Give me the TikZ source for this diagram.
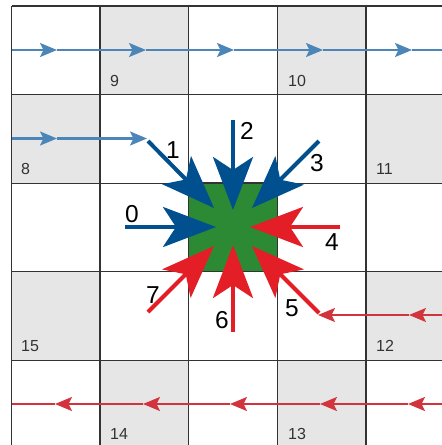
\documentclass[tikz,border=0pt]{standalone}
\usepackage{fontspec}
\setmainfont{Liberation Sans}
\usetikzlibrary{arrows.meta}
\definecolor{gridc}{HTML}{333333}
\definecolor{cellgray}{HTML}{E6E6E6}
\definecolor{thinblue}{HTML}{4C86B8}
\definecolor{thinred}{HTML}{D2343E}
\definecolor{bigblue}{HTML}{00508F}
\definecolor{bigred}{HTML}{E31E26}
\definecolor{sqgreen}{HTML}{2C8A35}
\tikzset{
  thinb/.style={draw=thinblue, line width=2.2pt, -{Stealth[length=17pt,width=14pt,inset=3.5pt]}},
  thinr/.style={draw=thinred, line width=2.2pt, -{Stealth[length=17pt,width=14pt,inset=3.5pt]}},
  bigb/.style={draw=bigblue, line width=4pt, -{Stealth[length=53pt,width=40pt,inset=13pt]}},
  bigr/.style={draw=bigred, line width=4pt, -{Stealth[length=53pt,width=40pt,inset=13pt]}},
  celllab/.style={inner sep=0pt, anchor=base west, text=gridc, font=\fontsize{16}{16}\selectfont},
  dirlab/.style={inner sep=0pt, anchor=center, font=\fontsize{24.5}{24.5}\selectfont},
}
\begin{document}
\begin{tikzpicture}[x=1pt,y=-1pt]
\useasboundingbox (0,0) rectangle (442,445);
\clip (0,0) rectangle (442,445);
\fill[white] (0,0) rectangle (442,445);
% gray cells
\def\cs{88.6}
\foreach \c/\r in {1/0,3/0,0/1,4/1,0/3,4/3,1/4,3/4}{
  \fill[cellgray] (11.5+\c*\cs,6+\r*\cs) rectangle ++(\cs,\cs);
}
% grid
\foreach \i in {0,...,4}{
  \draw[gridc, line width=1.3pt] (11.5+\i*\cs,6) -- (11.5+\i*\cs,450);
  \draw[gridc, line width=1.3pt] (11.5,6+\i*\cs) -- (450,6+\i*\cs);
}
% green square
\node[draw=gridc, line width=1.3pt, fill=sqgreen, minimum size=88.6pt, inner sep=0pt] (sq) at (233.0,227.3) {};
% cell labels
\node[celllab] (l9) at (110,86) {9};
\node[celllab] (l10) at (288,86) {10};
\node[celllab] (l8) at (21,174.5) {8};
\node[celllab] (l11) at (376,174.5) {11};
\node[celllab] (l15) at (21,351) {15};
\node[celllab] (l12) at (376,351) {12};
\node[celllab] (l14) at (110,439.5) {14};
\node[celllab] (l13) at (288,439.5) {13};
% thin blue lines
\coordinate (t0) at (11.5,50);
\coordinate (t1) at (57,50);
\coordinate (t2) at (146,50);
\coordinate (t3) at (234,50);
\coordinate (t4) at (323,50);
\coordinate (t5) at (412,50);
\coordinate (t6) at (445,50);
\draw[thinb] (t0) -- (t1);
\draw[thinb] (t1) -- (t2);
\draw[thinb] (t2) -- (t3);
\draw[thinb] (t3) -- (t4);
\draw[thinb] (t4) -- (t5);
\draw[thinblue, line width=2.2pt] (t5) -- (t6);
\coordinate (s0) at (11.5,138.5);
\coordinate (s1) at (57,138.5);
\coordinate (s2) at (147,138.5);
\draw[thinb] (s0) -- (s1);
\draw[thinb] (s1) -- (s2);
% thin red lines
\coordinate (r0) at (445,315);
\coordinate (r1) at (409,315);
\coordinate (r2) at (318,315);
\draw[thinr] (r0) -- (r1);
\draw[thinr] (r1) -- (r2);
\coordinate (u0) at (445,404);
\coordinate (u1) at (408,404);
\coordinate (u2) at (320,404);
\coordinate (u3) at (230,404);
\coordinate (u4) at (143,404);
\coordinate (u5) at (55,404);
\coordinate (u6) at (11.5,404);
\draw[thinr] (u0) -- (u1);
\draw[thinr] (u1) -- (u2);
\draw[thinr] (u2) -- (u3);
\draw[thinr] (u3) -- (u4);
\draw[thinr] (u4) -- (u5);
\draw[thinred, line width=2.2pt] (u5) -- (u6);
% big arrows
\coordinate (a0) at (125,227);   \coordinate (e0) at (216,227);
\coordinate (a1) at (148,141);   \coordinate (e1) at (214,208);
\coordinate (a2) at (233,120);   \coordinate (e2) at (233,210);
\coordinate (a3) at (319,141);   \coordinate (e3) at (252,208);
\coordinate (a4) at (340,227);   \coordinate (e4) at (250,227);
\coordinate (a5) at (319,313);   \coordinate (e5) at (252,246);
\coordinate (a6) at (233,332);   \coordinate (e6) at (233,245);
\coordinate (a7) at (148,312);   \coordinate (e7) at (214,246);
\draw[bigb] (a0) -- (e0);
\draw[bigb] (a1) -- (e1);
\draw[bigb] (a2) -- (e2);
\draw[bigb] (a3) -- (e3);
\draw[bigr] (a4) -- (e4);
\draw[bigr] (a5) -- (e5);
\draw[bigr] (a6) -- (e6);
\draw[bigr] (a7) -- (e7);
% direction labels
\node[dirlab] (d0) at (132,214) {0};
\node[dirlab] (d1) at (173,150) {1};
\node[dirlab] (d2) at (247,131) {2};
\node[dirlab] (d3) at (317,163) {3};
\node[dirlab] (d4) at (332,242) {4};
\node[dirlab] (d5) at (292,308) {5};
\node[dirlab] (d6) at (222,320) {6};
\node[dirlab] (d7) at (153,295) {7};
\end{tikzpicture}
\end{document}
